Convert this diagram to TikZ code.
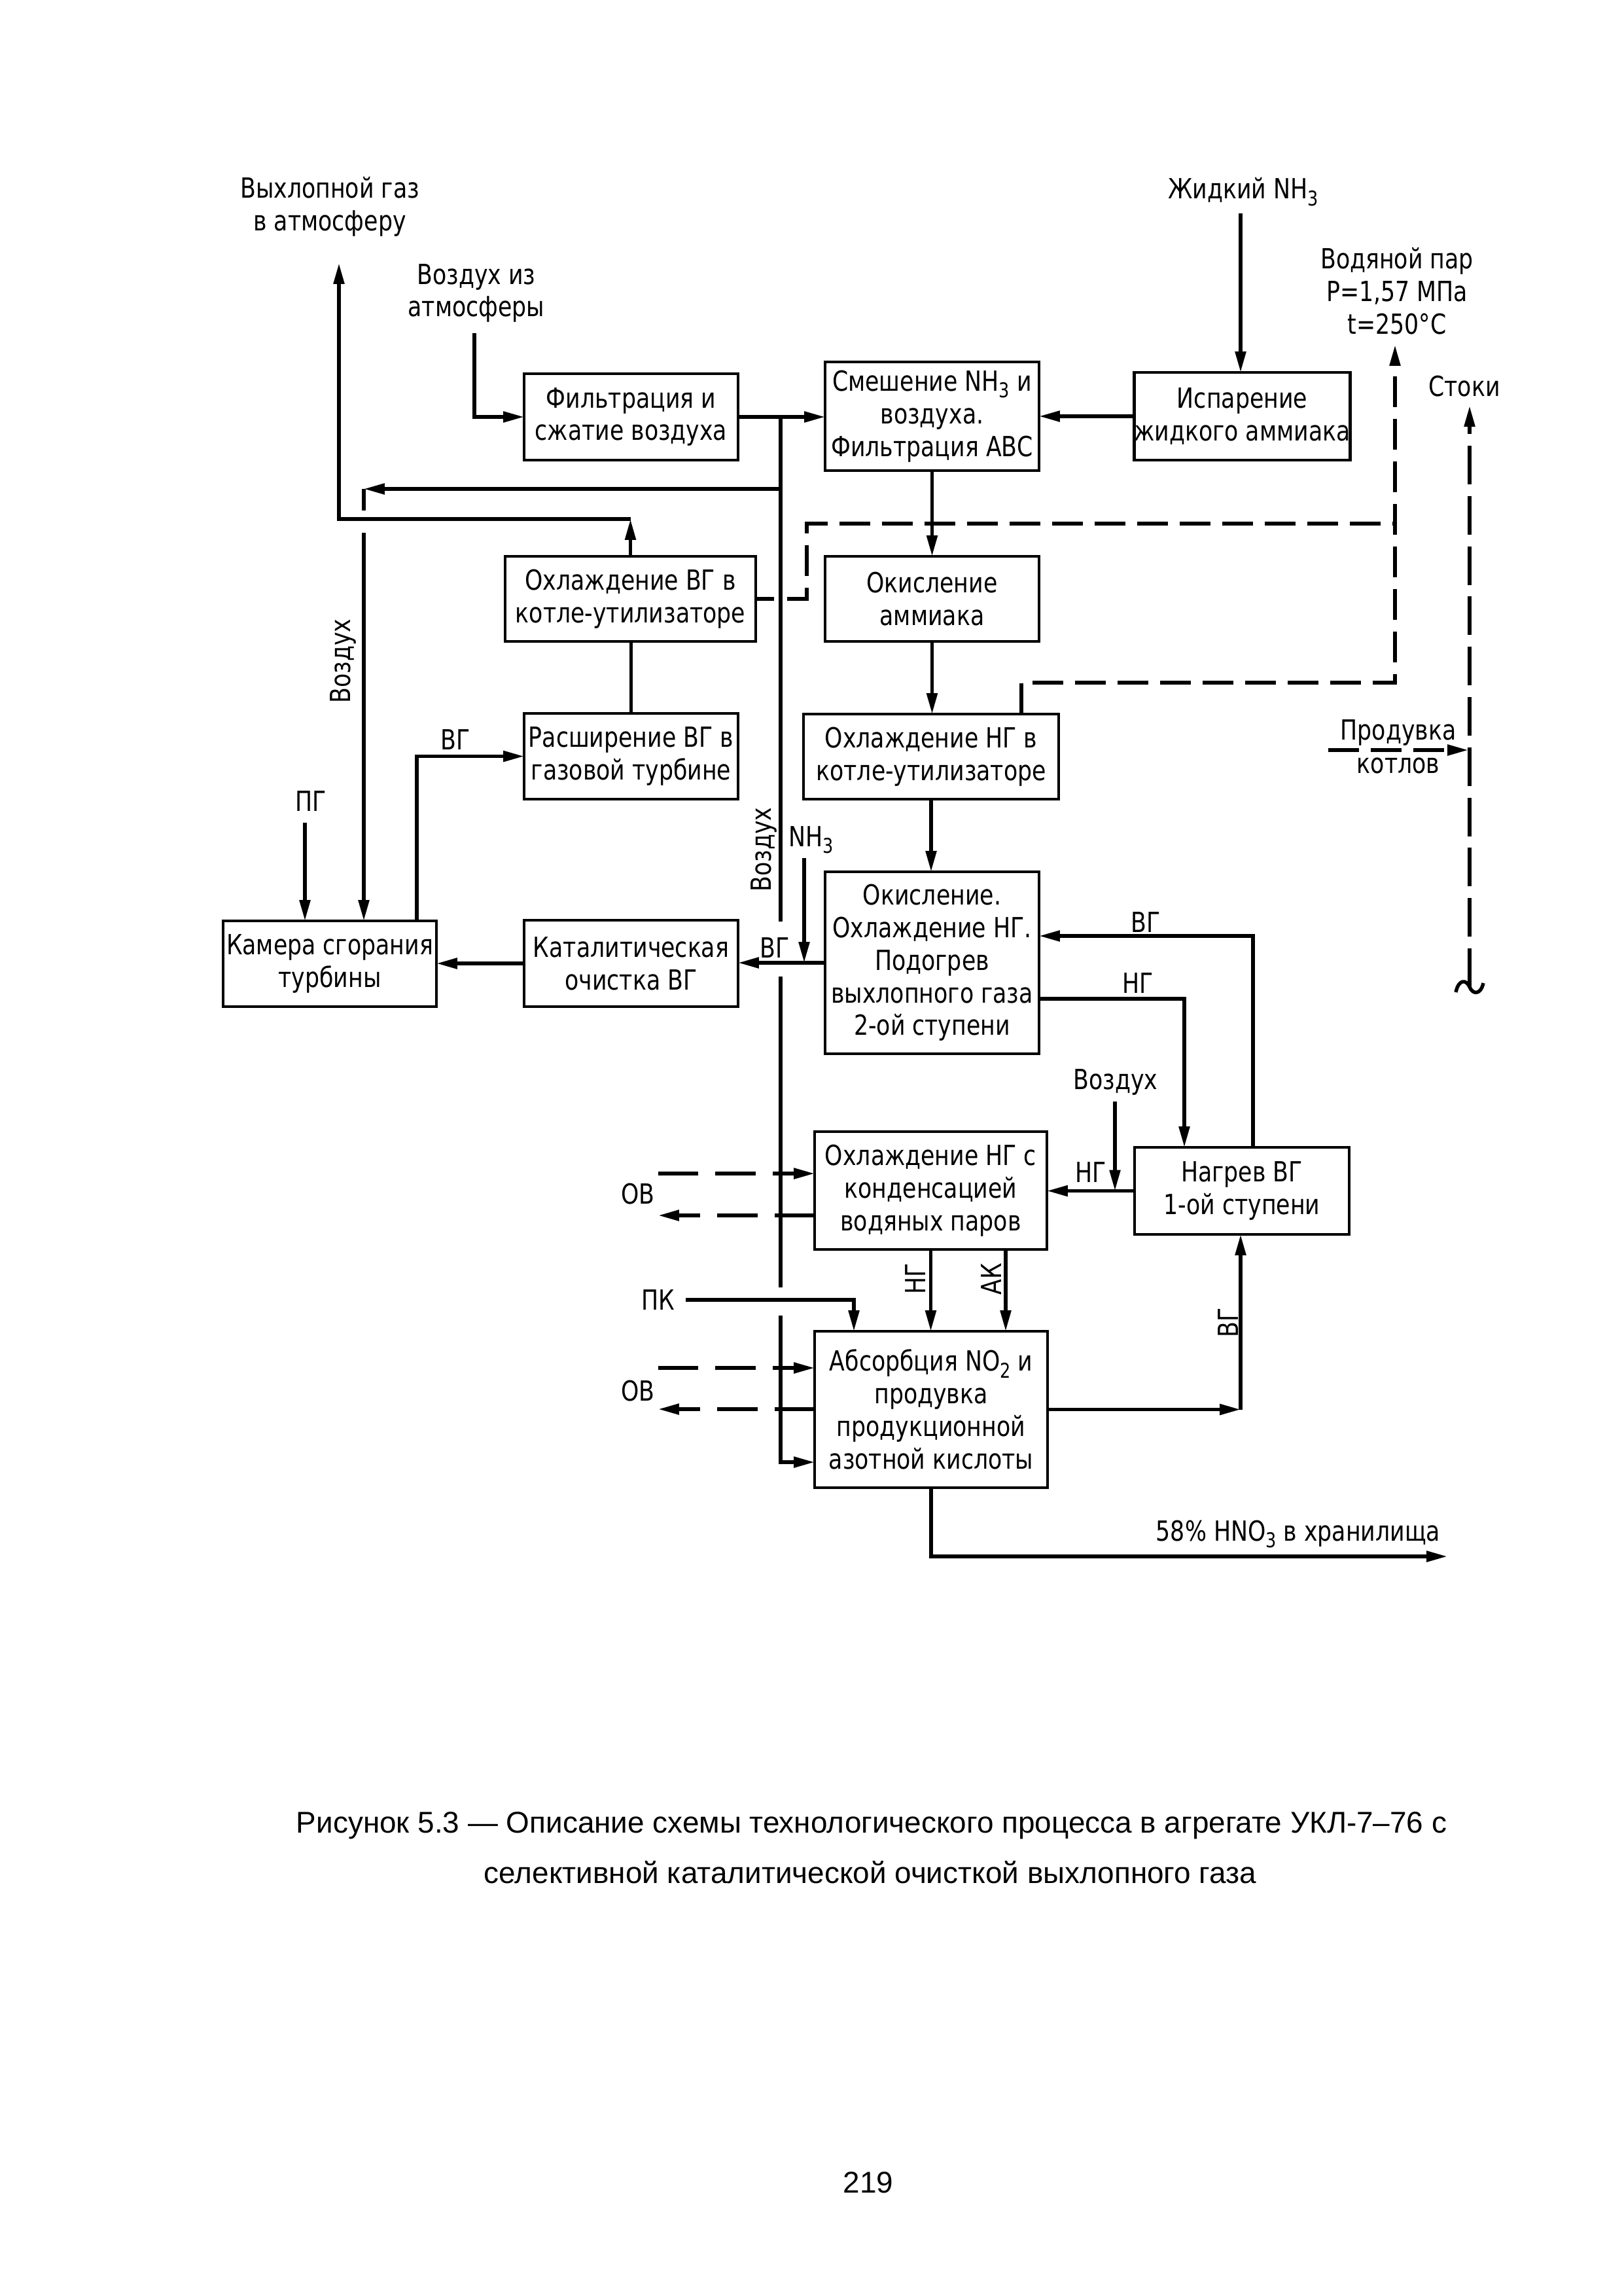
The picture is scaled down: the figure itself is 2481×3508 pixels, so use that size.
\documentclass[tikz,border=0pt]{standalone}
\usepackage{fontspec}
\setmainfont{DejaVu Sans}
\newfontfamily\gostfam[FakeStretch=0.82]{DejaVu Sans}
\newfontfamily\capfam{Liberation Sans}
\usetikzlibrary{arrows.meta}
\newcommand{\lowsub}[1]{\raisebox{-0.45ex}{\fontsize{7.5}{7.5}\selectfont #1}}
\newcommand{\pxu}{0.08464mm}
\begin{document}
\begin{tikzpicture}[x=0.08464mm,y=-0.08464mm,
  every node/.style={inner sep=0pt, outer sep=0pt},
  gost/.style={font=\gostfam\fontsize{10.2}{12}\selectfont, align=center},
  box/.style={gost, draw, line width=1.1pt},
  lab/.style={gost},
  rlab/.style={gost, rotate=90},
  capf/.style={font=\capfam\fontsize{11.05}{13}\selectfont},
  ln/.style={line width=1.3pt},
  arr/.style={ln, -{Triangle[length=2.7mm,width=1.35mm]}},
  dsh/.style={dash pattern=on 4mm off 1.5mm},
  dshb/.style={dash pattern=on 5.2mm off 2.2mm},
  dshc/.style={dash pattern=on 5mm off 1.5mm},
]
\useasboundingbox (0,0) rectangle (2481,3508);

% ---------- boxes ----------
\node[box, minimum width=327*\pxu, minimum height=132*\pxu] (filt) at (964.5,637) {Фильтрация и\\сжатие воздуха};
\node[box, minimum width=327*\pxu, minimum height=166*\pxu] (mix) at (1424.5,636) {Смешение NH\lowsub{3} и\\воздуха.\\Фильтрация АВС};
\node[box, minimum width=329*\pxu, minimum height=134*\pxu] (isp) at (1898.5,636) {Испарение\\жидкого аммиака};
\node[box, minimum width=383*\pxu, minimum height=130*\pxu] (ovg) at (963.5,915) {Охлаждение ВГ в\\котле-утилизаторе};
\node[box, minimum width=327*\pxu, minimum height=130*\pxu] (oka) at (1424.5,915) {Окисление\\аммиака};
\node[box, minimum width=327*\pxu, minimum height=131*\pxu] (rash) at (964.5,1155.5) {Расширение ВГ в\\газовой турбине};
\node[box, minimum width=390*\pxu, minimum height=130*\pxu] (ong) at (1423,1156) {Охлаждение НГ в\\котле-утилизаторе};
\node[box, minimum width=326*\pxu, minimum height=131*\pxu] (kam) at (504,1472.5) {Камера сгорания\\турбины};
\node[box, minimum width=327*\pxu, minimum height=132*\pxu] (kat) at (964.5,1472) {Каталитическая\\очистка ВГ};
\node[box, minimum width=327*\pxu, minimum height=278*\pxu] (okis) at (1424.5,1471) {Окисление.\\Охлаждение НГ.\\Подогрев\\выхлопного газа\\2-ой ступени};
\node[box, minimum width=328*\pxu, minimum height=133*\pxu] (nagr) at (1898,1819.5) {Нагрев ВГ\\1-ой ступени};
\node[box, minimum width=355*\pxu, minimum height=180*\pxu] (onk) at (1422.5,1819) {Охлаждение НГ с\\конденсацией\\водяных паров};
\node[box, minimum width=356*\pxu, minimum height=239*\pxu] (abs) at (1423,2153.5) {Абсорбция NO\lowsub{2} и\\продувка\\продукционной\\азотной кислоты};

% ---------- labels ----------
\node[lab] (lexh) at (504,316) {Выхлопной газ\\в атмосферу};
\node[lab] (lair) at (728,448) {Воздух из\\атмосферы};
\node[lab] (lnh3) at (1900,293) {Жидкий NH\lowsub{3}};
\node[lab] (lsteam) at (2135,445) {Водяной пар\\P=1,57 МПа\\t=250°C};
\node[lab] (lstoki) at (2238,590) {Стоки};
\node[lab] (lprod1) at (2137,1119) {Продувка};
\node[lab] (lprod2) at (2137,1170) {котлов};
\node[lab] (lvg1) at (696,1130) {ВГ};
\node[lab] (lpg) at (475,1224) {ПГ};
\node[rlab] (lvoz1) at (524,1010) {Воздух};
\node[rlab] (lvoz2) at (1167,1298) {Воздух};
\node[lab] (lnh3b) at (1240,1283) {NH\lowsub{3}};
\node[lab] (lvg2) at (1184,1448) {ВГ};
\node[lab] (lvg3) at (1751,1409) {ВГ};
\node[lab] (lng1) at (1739,1502) {НГ};
\node[lab] (lvoz3) at (1705,1653) {Воздух};
\node[lab] (lng2) at (1667,1791) {НГ};
\node[lab] (lov1) at (975,1824) {ОВ};
\node[lab] (lov2) at (975,2125) {ОВ};
\node[lab] (lpk) at (1006,1986) {ПК};
\node[rlab] (lng3) at (1399,1954) {НГ};
\node[rlab] (lak) at (1515,1954) {АК};
\node[rlab] (lvg4) at (1877,2021) {ВГ};
\node[lab] (lhno3) at (1984,2344) {58\% HNO\lowsub{3} в хранилища};

% ---------- coordinates ----------
\coordinate (airin) at (725,509);
\coordinate (J1) at (1193,637);
\coordinate (br) at (1193,747);
\coordinate (c556a) at (556,747);
\coordinate (c556b) at (556,780);
\coordinate (c556c) at (556,814);
\coordinate (exh1) at (963.5,793);
\coordinate (exh2) at (518,793);
\coordinate (exh3) at (518,402);
\coordinate (nh3in) at (1896,326);
\coordinate (v1) at (1193,1408);
\coordinate (v2) at (1193,1492);
\coordinate (v3) at (1193,1967);
\coordinate (v4) at (1193,2010);
\coordinate (v5) at (1193,2234);
\coordinate (nh3b) at (1229,1311);
\coordinate (pg) at (466,1257);
\coordinate (kvg) at (637,1407);
\coordinate (s1) at (1183,915);
\coordinate (s2) at (1203,915);
\coordinate (s3) at (1233,915);
\coordinate (s4) at (1233,800);
\coordinate (s5) at (2132,800);
\coordinate (t1) at (1561,1091);
\coordinate (t2) at (1561,1043);
\coordinate (t3) at (2132,1043);
\coordinate (t4) at (2132,527);
\coordinate (sk1) at (2246,1508);
\coordinate (sk2) at (2246,620);
\coordinate (pd1) at (2030,1146);
\coordinate (pd2) at (2244,1146);
\coordinate (vg1) at (1915,1430);
\coordinate (ng1) at (1810,1526);
\coordinate (vz) at (1704,1683);
\coordinate (ak) at (1537,1909);
\coordinate (pk) at (1048,1986);
\coordinate (pk2) at (1305,2034);
\coordinate (ob1) at (1006,1793);
\coordinate (ob2) at (1006,1857);
\coordinate (ob3) at (1006,2090);
\coordinate (ob4) at (1006,2153);
\coordinate (vg2) at (1896,2153.5);
\coordinate (pr) at (2212,2378);

% ---------- connectors ----------
\draw[arr] (airin) |- (filt.west);
\draw[arr] (filt.east) -- (filt.east -| mix.west);
\draw[arr] (isp.west) -- (isp.west -| mix.east);
\draw[arr] (nh3in) -- (nh3in |- isp.north);
\draw[arr] (mix.south) -- (mix.south |- oka.north);
\draw[arr] (oka.south) -- (oka.south |- ong.north);
\draw[arr] (ong.south) -- (ong.south |- okis.north);

% main air line
\draw[ln] (J1) -- (v1);
\draw[ln] (v2) -- (v3);
\draw[arr] (v4) -- (v5) -- (v5 -| abs.west);
\draw[arr] (br) -- (c556a);
\draw[ln] (c556a) -- (c556b);
\draw[arr] (c556c) -- (c556c |- kam.north);

% exhaust
\draw[arr] (ovg.north) -- (exh1);
\draw[arr] (exh1) -- (exh2) -- (exh3);
\draw[ln] (rash.north) -- (rash.north |- ovg.south);

% turbine
\draw[arr] (pg) -- (pg |- kam.north);
\draw[arr] (kvg) |- (rash.west);
\draw[arr] (kat.west) -- (kat.west -| kam.east);
\draw[arr] (okis.west) -- (okis.west -| kat.east);
\draw[arr] (nh3b) -- (nh3b |- okis.west);

% steam (dashed)
\draw[ln] (ovg.east) -- (s1);
\draw[ln, dsh] (s2) -- (s3) -- (s4) -- (s5);
\draw[arr, dsh] (t1) -- (t2) -- (t3) -- (t4);

% drains
\draw[arr, dshc] (sk1) -- (sk2);
\draw[ln] (2225,1516) .. controls (2229,1496) and (2241,1496) .. (sk1) .. controls (2251,1520) and (2263,1520) .. (2267,1502);
\draw[arr, dsh] (pd1) -- (pd2);

% heater loop
\draw[arr] (vg1 |- nagr.north) -- (vg1) -- (vg1 -| okis.east);
\draw[arr] (ng1 -| okis.east) -- (ng1) -- (ng1 |- nagr.north);
\draw[arr] (nagr.west) -- (nagr.west -| onk.east);
\draw[arr] (vz) -- (vz |- nagr.west);

% condenser / absorber
\draw[arr] (onk.south) -- (onk.south |- abs.north);
\draw[arr] (ak) -- (ak |- abs.north);
\draw[arr] (pk) -| (pk2);
\draw[arr, dshb] (ob1) -- (ob1 -| onk.west);
\draw[arr, dshb] (ob2 -| onk.west) -- (ob2);
\draw[arr, dshb] (ob3) -- (ob3 -| abs.west);
\draw[arr, dshb] (ob4 -| abs.west) -- (ob4);
\draw[arr] (abs.east) -- (vg2);
\draw[arr] (vg2) -- (vg2 |- nagr.south);
\draw[arr] (abs.south) |- (pr);

% ---------- caption ----------
\node[capf, anchor=base] (cap1) at (1332,2800) {Рисунок 5.3 — Описание схемы технологического процесса в агрегате УКЛ-7–76 с};
\node[capf, anchor=base] (cap2) at (1330,2877) {селективной каталитической очисткой выхлопного газа};
\node[capf, anchor=base] (pnum) at (1327,3350) {219};
\end{tikzpicture}
\end{document}
